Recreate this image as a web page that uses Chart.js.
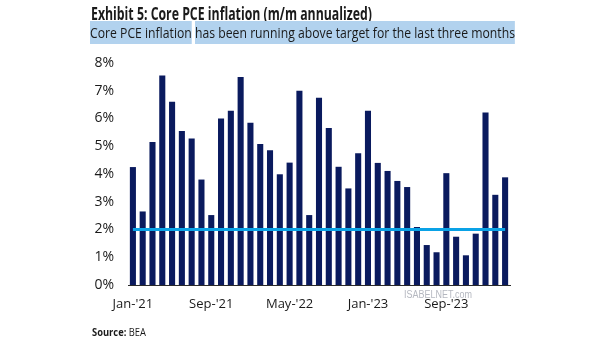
<!DOCTYPE html>
<html>
<head>
<meta charset="utf-8">
<script src="https://cdn.jsdelivr.net/npm/chart.js@4"></script>
<style>
  body { margin: 0; background: #fff; }
  #wrap { position: relative; width: 605px; height: 341px; overflow: hidden; font-family: "Open Sans", sans-serif; color: #1a1a1a; }
  #grafico { position: absolute; left: 0; top: 0; }
  .txt { position: absolute; white-space: nowrap; transform-origin: 0 0; }
  #titulo { left: 91px; top: 2px; font-size: 17px; font-weight: 700; }
  #subtitulo { left: 90px; top: 22px; font-size: 15px; }
  #subtitulo span { background: #b2d2ee; padding: 1px 0 2px 0; }
  #fuente { left: 92px; top: 324px; font-size: 11px; }
  #marca { left: 404px; top: 289px; font-size: 10px; color: #b5b8c0; font-family: "Liberation Sans", sans-serif; }
</style>
</head>
<body>
<div id="wrap">
  <canvas id="grafico" width="605" height="341"></canvas>
  <div class="txt" id="titulo" data-w="281">Exhibit 5: Core PCE inflation (m/m annualized)</div>
  <div class="txt" id="subtitulo" data-w="425"><span>Core PCE inflation</span> <span>has been running above target for the last three months</span></div>
  <div class="txt" id="fuente" data-w="54"><b>Source:</b> BEA</div>
  <div class="txt" id="marca" data-w="68">ISABELNET.com</div>
</div>
<script>
const meses = [
  "Jan-'21", "Feb-'21", "Mar-'21", "Apr-'21", "May-'21", "Jun-'21", "Jul-'21", "Aug-'21",
  "Sep-'21", "Oct-'21", "Nov-'21", "Dec-'21", "Jan-'22", "Feb-'22", "Mar-'22", "Apr-'22",
  "May-'22", "Jun-'22", "Jul-'22", "Aug-'22", "Sep-'22", "Oct-'22", "Nov-'22", "Dec-'22",
  "Jan-'23", "Feb-'23", "Mar-'23", "Apr-'23", "May-'23", "Jun-'23", "Jul-'23", "Aug-'23",
  "Sep-'23", "Oct-'23", "Nov-'23", "Dec-'23", "Jan-'24", "Feb-'24", "Mar-'24"
]

// Core PCE, m/m anualizado (%)
const core_pce = [
  4.25, 2.65, 5.15, 7.55, 6.6, 5.55, 5.28, 3.8,
  2.52, 6.0, 6.28, 7.5, 5.85, 5.08, 4.86, 3.99,
  4.41, 7.0, 2.52, 6.75, 5.66, 4.26, 3.48, 4.75,
  6.28, 4.4, 4.11, 3.75, 3.53, 2.09, 1.44, 1.18,
  4.03, 1.74, 1.07, 1.85, 6.22, 3.25, 3.88
]

const objetivo = 2
const ticks_y = [0, 1, 2, 3, 4, 5, 6, 7, 8]
const cada_n_meses = 8

// Textos HTML: se comprimen horizontalmente para imitar la fuente condensada
for (let el of document.querySelectorAll('.txt')) {
  const ancho = el.getBoundingClientRect().width
  el.style.transform = `scaleX(${el.dataset.w / ancho})`
}

new Chart(document.getElementById('grafico'), {
  type: 'bar',
  data: {
    labels: meses,
    datasets: [{
      type: 'line',
      data: meses.map(() => objetivo),
      borderColor: '#0aa2e6',
      borderWidth: 3,
      pointRadius: 0,
      order: 0
    }, {
      data: core_pce,
      backgroundColor: '#0a1a5e',
      barPercentage: 0.62,
      categoryPercentage: 1,
      order: 1
    }]
  },
  options: {
    responsive: false,
    animation: false,
    layout: { padding: { left: 0, right: 95, top: 63, bottom: 26 } },
    plugins: { legend: { display: false }, tooltip: { enabled: false } },
    scales: {
      x: {
        grid: { display: false, drawTicks: false },
        border: { display: true, color: '#2a2a2a', width: 1 },
        ticks: {
          autoSkip: false,
          maxRotation: 0,
          padding: 11,
          color: '#1a1a1a',
          font: { family: "Open Sans", size: 13 },
          callback: function (value, index) {
            return index % cada_n_meses == 0 ? meses[index] : ''
          }
        },
        afterFit: (scale) => { scale.height = 30 }
      },
      y: {
        min: ticks_y[0],
        max: ticks_y[ticks_y.length - 1],
        grid: { display: false, drawTicks: false },
        border: { display: false },
        afterBuildTicks: (scale) => { scale.ticks = ticks_y.map(v => ({ value: v })) },
        ticks: {
          padding: 14,
          color: '#1a1a1a',
          font: { family: "Open Sans", size: 14 },
          callback: (value) => value + '%'
        },
        afterFit: (scale) => { scale.width = 128 }
      }
    }
  }
})
</script>
</body>
</html>
